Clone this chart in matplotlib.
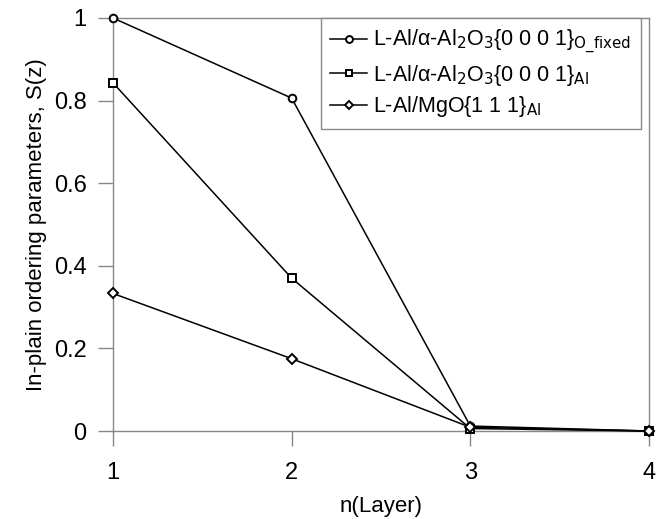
"""
In-plane ordering parameter S(z) per layer for three L-Al interfaces.
"""

import matplotlib
matplotlib.use("Agg")
import matplotlib.pyplot as plt
from matplotlib.ticker import FormatStrFormatter

plt.rcParams["font.family"] = ["Liberation Sans Narrow", "Liberation Sans", "DejaVu Sans"]
plt.rcParams["mathtext.fontset"] = "custom"
plt.rcParams["mathtext.rm"] = "Liberation Sans Narrow"
plt.rcParams["mathtext.it"] = "Liberation Sans Narrow:italic"
plt.rcParams["mathtext.bf"] = "Liberation Sans Narrow:bold"

layers = [1, 2, 3, 4]
s_al2o3_ofixed = [1.0, 0.806, 0.012, 0.0]
s_al2o3_al = [0.843, 0.370, 0.006, 0.0]
s_mgo_al = [0.333, 0.175, 0.009, 0.0]

labels = [
    r"L-Al/α-Al$_2$O$_3${0 0 0 1}$_{\mathrm{O\_fixed}}$",
    r"L-Al/α-Al$_2$O$_3${0 0 0 1}$_{\mathrm{Al}}$",
    r"L-Al/MgO{1 1 1}$_{\mathrm{Al}}$",
]

fig = plt.figure(figsize=(6.56, 5.19), dpi=100)
ax = fig.add_axes([113 / 656, 88 / 519, 536 / 656, 413 / 519])

style = dict(color="black", lw=1.1, markerfacecolor="white",
             markeredgecolor="black", markeredgewidth=1.4, clip_on=False, zorder=3)
ax.plot(layers, s_al2o3_ofixed, marker="o", ms=5.5, label=labels[0], **style)
ax.plot(layers, s_al2o3_al, marker="s", ms=5.5, label=labels[1], **style)
ax.plot(layers, s_mgo_al, marker="D", ms=4.8, label=labels[2], **style)

ax.set_xlim(1, 4)
ax.set_ylim(0, 1)
ax.set_xticks([1, 2, 3, 4])
ax.set_yticks([0, 0.2, 0.4, 0.6, 0.8, 1.0])
ax.yaxis.set_major_formatter(FormatStrFormatter("%g"))
ax.tick_params(direction="out", length=11, width=1, color="#888888",
               labelsize=17)
ax.tick_params(axis="x", pad=11)
ax.tick_params(axis="y", pad=8)
for sp in ax.spines.values():
    sp.set_color("#888888")
    sp.set_linewidth(1)

ax.set_xlabel("n(Layer)", fontsize=16, labelpad=9)
ax.set_ylabel("In-plain ordering parameters, S(z)", fontsize=16, labelpad=5)

leg = ax.legend(loc="upper right", bbox_to_anchor=(0.985, 1.0), borderaxespad=0,
                fontsize=15.5, fancybox=False, framealpha=1, edgecolor="#888888",
                handlelength=1.7, handletextpad=0.3, labelspacing=0.3,
                borderpad=0.45, markerscale=0.9)
leg.get_frame().set_linewidth(1)

fig.savefig("out.png", dpi=100)
